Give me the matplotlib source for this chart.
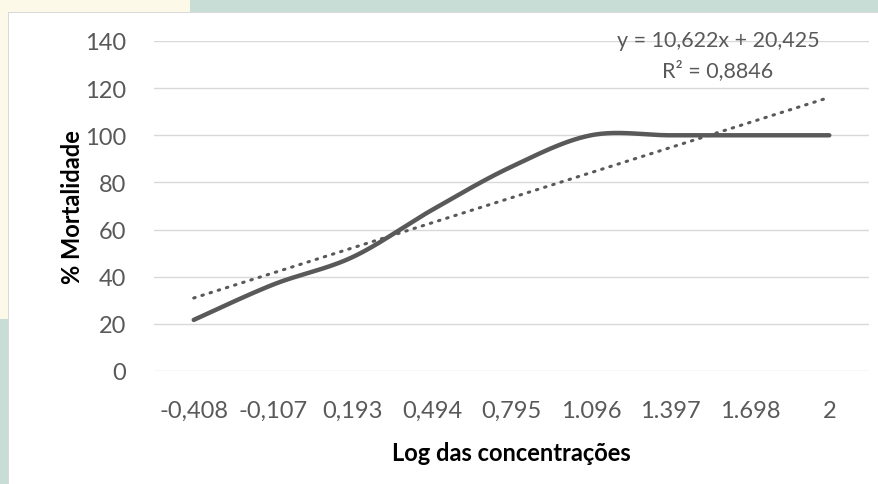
import numpy as np
import matplotlib
matplotlib.use("Agg")
import matplotlib.pyplot as plt
from matplotlib.colors import to_rgb

categories = ["-0,408", "-0,107", "0,193", "0,494", "0,795", "1.096", "1.397", "1.698", "2"]
mortality = [21.67, 36.67, 48.33, 68.33, 86.67, 100, 100, 100, 100]
equation_text = "y = 10,622x + 20,425"
r2_text = "R² = 0,8846"

plt.rcParams['font.family'] = ['Lato', 'DejaVu Sans']

W, H = 879, 485
fig = plt.figure(figsize=(W / 100, H / 100), dpi=100)
fig.patch.set_facecolor('white')

# background decoration (photo behind the white chart box) as a pixel image
img = np.ones((H, W, 3))
cream = np.array(to_rgb('#fcf9e8'))
teal = np.array(to_rgb('#c7ddd6'))
border = np.array(to_rgb('#d9d9d9'))
img[:13, :190] = cream
img[:13, 190:] = teal
img[:320, :8] = cream
img[320:, :8] = teal
img[13, 8:] = border
img[13:, 8] = border
bg = fig.add_axes([0, 0, 1, 1])
bg.set_zorder(-5)
bg.imshow(img, extent=(0, W, H, 0), aspect='auto', interpolation='nearest')
bg.axis('off')

ax = fig.add_axes([154 / W, 1 - 372 / H, 715 / W, 330 / H])
ax.set_zorder(1)
ax.set_facecolor('none')

n = len(mortality)
x = np.arange(1, n + 1, dtype=float)
y = np.array(mortality, dtype=float)

# Excel-like smoothed line (Catmull-Rom / Bezier)
px = np.concatenate([[x[0]], x, [x[-1]]])
py = np.concatenate([[y[0]], y, [y[-1]]])
xs, ys = [], []
t = np.linspace(0, 1, 40)
for i in range(1, n):
    p0 = np.array([px[i - 1], py[i - 1]])
    p1 = np.array([px[i], py[i]])
    p2 = np.array([px[i + 1], py[i + 1]])
    p3 = np.array([px[i + 2], py[i + 2]])
    c1 = p1 + (p2 - p0) / 6
    c2 = p2 - (p3 - p1) / 6
    b = ((1 - t) ** 3)[:, None] * p1 + (3 * (1 - t) ** 2 * t)[:, None] * c1 + \
        (3 * (1 - t) * t ** 2)[:, None] * c2 + (t ** 3)[:, None] * p2
    xs.extend(b[:, 0]); ys.extend(b[:, 1])

ax.plot(xs, ys, color='#595959', linewidth=3.2, solid_capstyle='round', zorder=3)

# linear trendline
slope, intercept = np.polyfit(x, y, 1)
ax.plot(x, slope * x + intercept, color='#595959', linewidth=2.2, linestyle=(0, (0.5, 2.3)),
        dash_capstyle='round', zorder=2)

ax.set_xlim(0.5, n + 0.5)
ax.set_ylim(0, 140)
ax.set_yticks(np.arange(0, 141, 20))
ax.set_xticks(x)
ax.set_xticklabels(categories)
ax.grid(axis='y', color='#d9d9d9', linewidth=1)
ax.set_axisbelow(True)
for s in ax.spines.values():
    s.set_visible(False)
ax.tick_params(length=0, labelsize=17, labelcolor='#595959')
ax.tick_params(axis='y', pad=20)
ax.tick_params(axis='x', pad=21)

ax.set_ylabel("% Mortalidade", fontsize=17, fontweight='bold', color='black', labelpad=1)
ax.set_xlabel("Log das concentrações", fontsize=17, fontweight='bold', color='black', labelpad=14)

fig.text(718 / W, 1 - 41 / H, equation_text, ha='center', va='center', fontsize=15.5, color='#595959', zorder=5)
fig.text(718 / W, 1 - 71 / H, r2_text, ha='center', va='center', fontsize=15.5, color='#595959', zorder=5)

fig.savefig("out.png", dpi=100)
